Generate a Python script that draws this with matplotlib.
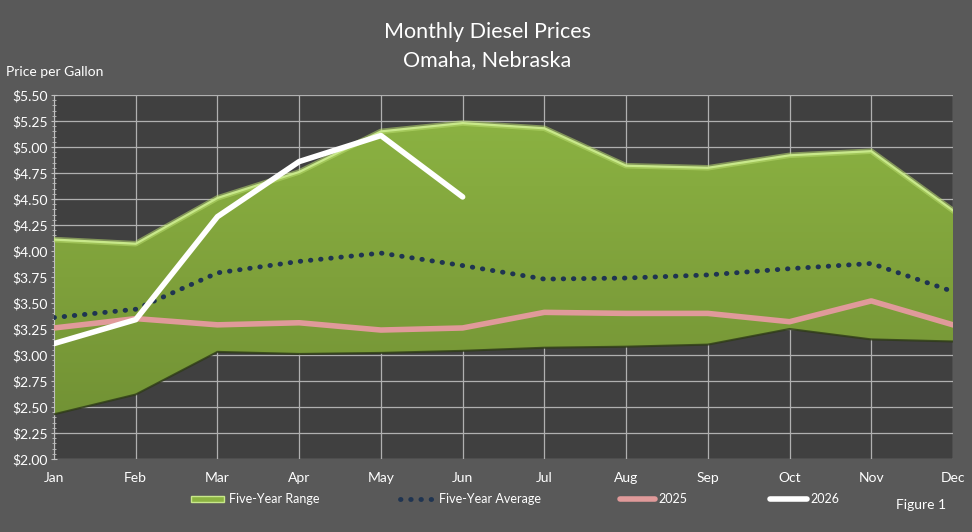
import numpy as np
import matplotlib
matplotlib.use("Agg")
import matplotlib.pyplot as plt
from matplotlib.lines import Line2D
from matplotlib.patches import Rectangle
from matplotlib.colors import LinearSegmentedColormap
import matplotlib.ticker as mticker

months = ["Jan", "Feb", "Mar", "Apr", "May", "Jun", "Jul", "Aug", "Sep", "Oct", "Nov", "Dec"]
range_high = [4.11, 4.07, 4.51, 4.76, 5.15, 5.23, 5.18, 4.82, 4.80, 4.92, 4.96, 4.39]
range_low = [2.43, 2.62, 3.03, 3.01, 3.02, 3.04, 3.07, 3.08, 3.10, 3.25, 3.15, 3.13]
five_year_avg = [3.36, 3.44, 3.79, 3.90, 3.98, 3.86, 3.73, 3.74, 3.77, 3.83, 3.88, 3.61]
y2025 = [3.26, 3.35, 3.29, 3.31, 3.24, 3.26, 3.41, 3.40, 3.40, 3.32, 3.52, 3.29]
y2026 = [3.11, 3.34, 4.33, 4.86, 5.11, 4.52]
yticks = [2.00, 2.25, 2.50, 2.75, 3.00, 3.25, 3.50, 3.75, 4.00, 4.25, 4.50, 4.75, 5.00, 5.25, 5.50]

plt.rcParams['font.family'] = ['Lato', 'DejaVu Sans']

BG = "#595959"
PLOT_BG = "#404040"
DOTS = (0, (0.1, 2.0))

fig = plt.figure(figsize=(9.72, 5.32), dpi=100, facecolor=BG)
ax = fig.add_axes([54/972, 1-459/532, (953-54)/972, (459-95)/532])
ax.set_facecolor(PLOT_BG)

x = np.arange(len(months))

ax.set_xlim(0, 11)
ax.set_ylim(2.0, 5.5)
ax.set_yticks(yticks)
ax.set_xticks(x)
ax.grid(True, color="#b0b0b0", linewidth=0.9, zorder=0)
ax.set_axisbelow(True)

# gradient-filled five-year range
poly = ax.fill_between(x, range_low, range_high, facecolor="none", edgecolor="none", zorder=2)
cmap = LinearSegmentedColormap.from_list("g", ["#6e8e33", "#7fa13b", "#8db543"])
grad = np.linspace(1, 0, 256).reshape(-1, 1)
im = ax.imshow(grad, extent=[0, 11, 2.0, 5.5], aspect="auto", cmap=cmap, origin="upper",
               zorder=2, interpolation="bilinear", vmin=0, vmax=1)
im.set_clip_path(poly.get_paths()[0], transform=ax.transData)
ax.plot(x, range_high, color="#b9dc6e", linewidth=4, alpha=0.55, zorder=3)
ax.plot(x, range_high, color="#c8e88a", linewidth=1.6, zorder=3)
ax.plot(x, range_low, color="#2e3a18", linewidth=1.5, alpha=0.8, zorder=3)

ax.plot(x, five_year_avg, color="#1f3451", linewidth=3.5, linestyle=DOTS,
        dash_capstyle="round", zorder=4)
ax.plot(x, y2025, color="#e09a9a", linewidth=4, zorder=5)
ax.plot(x[:len(y2026)], y2026, color="white", linewidth=4, zorder=6, solid_capstyle="round")

for s in ["top", "right", "bottom"]:
    ax.spines[s].set_visible(False)
ax.spines["left"].set_color("#bfbfbf")
ax.yaxis.set_major_formatter(mticker.FuncFormatter(lambda v, p: f"${v:.2f}"))
ax.yaxis.set_minor_locator(mticker.MultipleLocator(0.05))
ax.tick_params(axis="y", which="major", colors="#bfbfbf", length=5, direction="inout",
               labelcolor="white", labelsize=10, pad=2)
ax.tick_params(axis="y", which="minor", colors="#bfbfbf", length=3, direction="inout")
ax.set_xticklabels(months)
ax.tick_params(axis="x", length=0, labelcolor="white", labelsize=10, pad=9)

fig.text(487/972, 1-32/532, "Monthly Diesel Prices", ha="center", va="center",
         color="white", fontsize=15.5)
fig.text(487/972, 1-60/532, "Omaha, Nebraska", ha="center", va="center",
         color="white", fontsize=15.5)
fig.text(6/972, 1-72/532, "Price per Gallon", ha="left", va="center", color="white", fontsize=10)

ly = 1 - 499/532
def fx(px):
    return px/972
fig.add_artist(Rectangle((fx(191), ly-0.006), fx(224)-fx(191), 0.012, transform=fig.transFigure,
                         facecolor="#8cb342", edgecolor="#c8e88a", linewidth=1))
fig.text(fx(229), ly, "Five-Year Range", color="white", fontsize=9, va="center")
fig.add_artist(Line2D([fx(400), fx(432)], [ly, ly], transform=fig.transFigure, color="#1f3451",
                      linewidth=3.5, linestyle=DOTS, dash_capstyle="round"))
fig.text(fx(439), ly, "Five-Year Average", color="white", fontsize=9, va="center")
fig.add_artist(Line2D([fx(620), fx(655)], [ly, ly], transform=fig.transFigure, color="#e09a9a",
                      linewidth=4, solid_capstyle="round"))
fig.text(fx(658), ly, "2025", color="white", fontsize=9, va="center")
fig.add_artist(Line2D([fx(770), fx(807)], [ly, ly], transform=fig.transFigure, color="white",
                      linewidth=4, solid_capstyle="round"))
fig.text(fx(810), ly, "2026", color="white", fontsize=9, va="center")
fig.text(fx(896), 1-505/532, "Figure 1", color="white", fontsize=10, va="center")

fig.savefig("out.png", dpi=100, facecolor=BG)
